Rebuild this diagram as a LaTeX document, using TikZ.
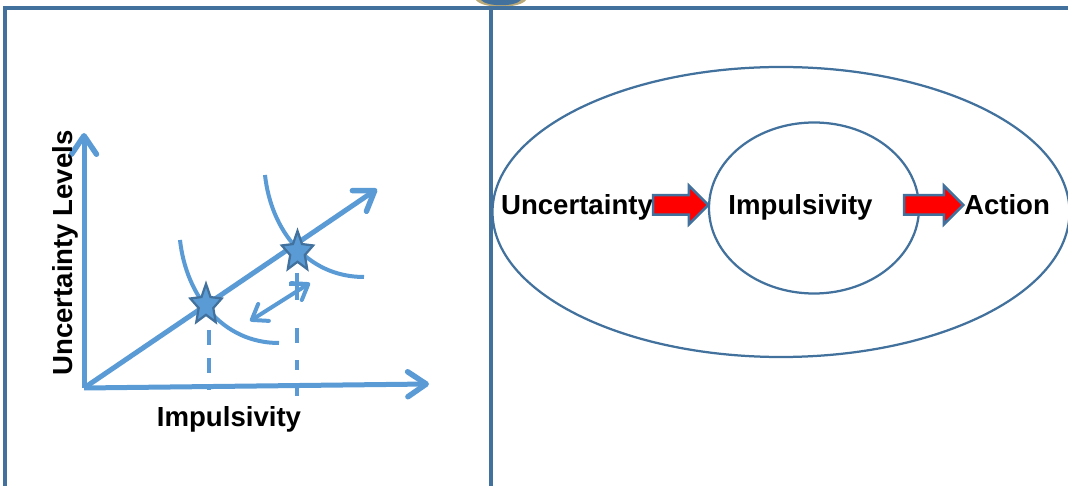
\documentclass[tikz,border=0pt]{standalone}
\usepackage{fontspec}
\setmainfont{Liberation Sans}
\usetikzlibrary{arrows.meta,shapes.geometric,shapes.arrows}
\definecolor{framecol}{HTML}{41719C}
\definecolor{axiscol}{HTML}{5B9BD5}
\definecolor{ringcol}{HTML}{41719C}
\definecolor{logotan}{HTML}{B9A878}
\begin{document}
\begin{tikzpicture}[
  x=0.2mm,y=-0.2mm,
  >={Straight Barb[length=3.7mm,width=5mm,line width=1.1mm,round]},
  frameline/.style={line width=0.65mm,framecol},
  axisline/.style={->,line width=1mm,axiscol},
  curveline/.style={line width=0.8mm,axiscol},
  dropline/.style={line width=0.8mm,axiscol},
  ring/.style={ellipse,draw=ringcol,line width=0.45mm,inner sep=0pt},
  lab/.style={font=\bfseries\fontsize{15.7pt}{18pt}\selectfont,inner sep=0pt,text=black,anchor=base},
  staritem/.style={star,star points=5,star point ratio=2.15,draw=framecol,fill=axiscol,line width=0.45mm,
    minimum size=6.6mm,inner sep=0pt,transform shape,yscale=1.28},
  redarrow/.style={single arrow,draw=framecol,fill=red,line width=0.5mm,single arrow head extend=1.9mm,
    inner xsep=0pt,inner ysep=1.7mm,anchor=tip}
]
  \useasboundingbox (0,0) rectangle (1068,486);

  % ---------- frame ----------
  \fill[logotan] (476,0) .. controls (482,9) and (520,9) .. (526,0) -- cycle;
  \fill[framecol] (481,0) .. controls (487,7) and (515,7) .. (521,0) -- cycle;
  \coordinate (tl) at (5,8);
  \coordinate (tr) at (1068,8);
  \coordinate (bl) at (5,486);
  \coordinate (tm) at (491,8);
  \coordinate (bm) at (491,486);
  \draw[frameline] (bl) -- (tl) -- (tr);
  \draw[frameline] (tm) -- (bm);

  % ---------- left plot ----------
  \coordinate (orig) at (84,388);
  \coordinate (ytip) at (84,133);
  \coordinate (xtip) at (429,384);
  \coordinate (rtip) at (377,189);
  \draw[axisline] (orig) -- (ytip);
  \draw[axisline] (orig) -- (xtip);
  \draw[axisline] (orig) -- (rtip);

  \coordinate (a1) at (180,240);
  \coordinate (a2) at (279,343);
  \coordinate (b1) at (265,175);
  \coordinate (b2) at (364,277);
  \draw[curveline] (a1) .. controls (186,295) and (222,343) .. (a2);
  \draw[curveline] (b1) .. controls (271,230) and (307,277) .. (b2);

  \coordinate (d1) at (209,330);
  \coordinate (e1) at (209,390);
  \coordinate (d2) at (297,273);
  \coordinate (e2) at (297,396);
  \draw[dropline,dash pattern=on 3mm off 2.6mm] (d1) -- (e1);
  \draw[dropline,dash pattern=on 5.4mm off 5.6mm on 3mm off 3.4mm on 2mm off 3mm] (d2) -- (e2);
  \coordinate (t1) at (289,284);
  \coordinate (t2) at (303,284);
  \draw[curveline] (t1) -- (t2);

  \coordinate (s1) at (250,321);
  \coordinate (s2) at (310,283);
  \draw[curveline,<->,>={Straight Barb[length=2.8mm,width=4mm,line width=0.8mm,round]}] (s2) -- (s1);

  \node[staritem] (starlow) at (206,305) {};
  \node[staritem] (starhigh) at (297.5,252) {};

  \node[lab] (xlabel) at (229,426) {Impulsivity};
  \node[lab,rotate=90] (ylabel) at (72,253) {Uncertainty Levels};

  % ---------- right diagram ----------
  \node[ring,minimum width=115.4mm,minimum height=58mm] (outer) at (781,212) {};
  \node[ring,minimum width=42mm,minimum height=34.2mm] (inner) at (814,208) {};
  \node[lab] (unc) at (577,215) {Uncertainty};
  \node[lab] (imp) at (800.5,215) {Impulsivity};
  \node[lab] (act) at (1007,215) {Action};
  \node[redarrow,minimum height=11mm] (ar1) at (710,205) {};
  \node[redarrow,minimum height=11.8mm] (ar2) at (965,205) {};
\end{tikzpicture}
\end{document}
